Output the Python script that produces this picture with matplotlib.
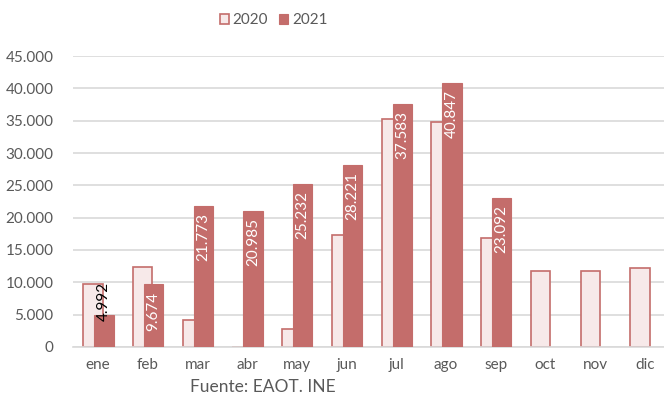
import numpy as np
import matplotlib.pyplot as plt

plt.rcParams['font.family'] = ['Lato', 'DejaVu Sans']

months = ["ene", "feb", "mar", "abr", "may", "jun", "jul", "ago", "sep", "oct", "nov", "dic"]
vals_2020 = [9800, 12350, 4250, 0, 2800, 17300, 35300, 34750, 16900, 11800, 11800, 12250]
vals_2021 = [4992, 9674, 21773, 20985, 25232, 28221, 37583, 40847, 23092]

dark = "#C46D6B"
light = "#F7E9E9"
grey_txt = "#595959"


def fmt(v):
    # spanish thousands separator
    return f"{v:,.0f}".replace(",", ".")


fig = plt.figure(figsize=(6.64, 4.01), dpi=100)
ax = fig.add_axes([0.11, 0.1347, 0.895, 0.7256])

x = np.arange(len(months))
w = 0.39
ax.bar(x - 0.1, vals_2020, width=w, color=light, edgecolor=dark, linewidth=1.2,
       label="2020", zorder=2)
x21 = x[:len(vals_2021)] + 0.12
bars21 = ax.bar(x21, vals_2021, width=w, color=dark, edgecolor=dark, linewidth=0.8,
                label="2021", zorder=3)

# data labels, rotated, inside end of bar
for xi, v in zip(x21, vals_2021):
    if v < 8000:
        ax.text(xi, v - 900, fmt(v), rotation=90, ha="center", va="bottom",
                color="black", fontsize=11, zorder=4)
    else:
        ax.text(xi, v - 1100, fmt(v), rotation=90, ha="center", va="top",
                color="white", fontsize=11, zorder=4)

ax.set_ylim(0, 45000)
ax.set_xlim(-0.5, 11.45)
ax.set_yticks(np.arange(0, 45001, 5000))
ax.set_yticklabels([fmt(v) for v in np.arange(0, 45001, 5000)])
ax.set_xticks(x)
ax.set_xticklabels(months)
ax.tick_params(axis="both", length=0, colors=grey_txt, labelsize=11)
ax.tick_params(axis="y", pad=14)
ax.tick_params(axis="x", pad=8)
ax.grid(axis="y", color="#D9D9D9", linewidth=1.2, zorder=0)
ax.set_axisbelow(True)
for s in ["top", "right", "left"]:
    ax.spines[s].set_visible(False)
ax.spines["bottom"].set_color("#D9D9D9")
ax.spines["bottom"].set_linewidth(1.2)

fig.legend(loc="center", bbox_to_anchor=(0.412, 0.95), ncol=2, frameon=False,
           fontsize=11, handlelength=0.6, handleheight=0.6, handletextpad=0.25,
           columnspacing=0.7, labelcolor=grey_txt)

fig.text(0.286, 0.022, "Fuente: EAOT. INE", color=grey_txt, fontsize=12.5)

fig.savefig("out.png", dpi=100)
